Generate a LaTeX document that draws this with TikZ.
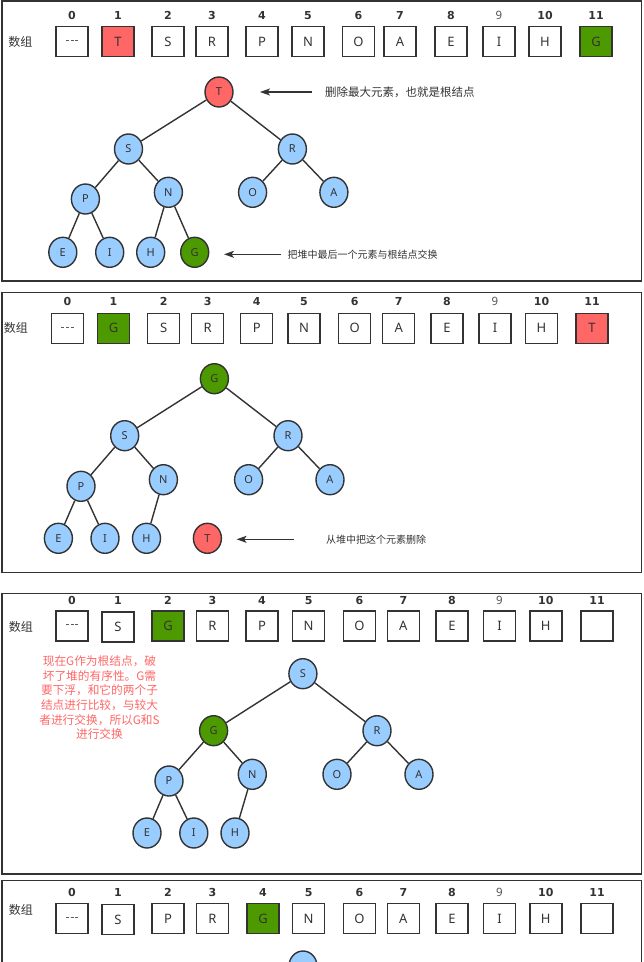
\documentclass[tikz,border=0pt]{standalone}
\usepackage{fontspec}
\setmainfont{Noto Sans}
\newfontfamily\cjk{Noto Sans CJK SC}
\newfontfamily\idxfont{DejaVu Sans}
\usetikzlibrary{shapes.geometric,arrows.meta}
\definecolor{lc}{HTML}{333333}
\definecolor{hred}{HTML}{FF6666}
\definecolor{hgreen}{HTML}{4D9900}
\definecolor{hblue}{HTML}{99CCFF}
\definecolor{redtxt}{HTML}{FF6666}
\newcommand\onedash{\textcolor{lc!80}{\rule[2.6pt]{3pt}{0.8pt}}}
\newcommand\tridash{\onedash\hspace{1.6pt}\onedash\hspace{1.6pt}\onedash}
\tikzset{
  panel/.style={draw=lc, line width=1.5pt},
  cell/.style={draw=lc, line width=1.4pt, minimum width=32pt, minimum height=30pt, inner sep=0pt, text=lc, font=\fontsize{13}{13}\selectfont},
  idxb/.style={font=\idxfont\bfseries\fontsize{11}{11}\selectfont, text=lc, text height=8pt, text depth=0pt, inner sep=0pt},
  idxl/.style={font=\fontsize{11.5}{11.5}\selectfont, text=lc!85, text height=8pt, text depth=0pt, inner sep=0pt},
  tn/.style={ellipse, draw=lc, line width=1.4pt, fill=hblue, minimum width=28pt, minimum height=30pt, inner sep=0pt, text=lc, font=\fontsize{11}{11}\selectfont},
  grn/.style={fill=hgreen},
  rd/.style={fill=hred},
  plain/.style={},
  edge/.style={draw=lc, line width=1.4pt},
  arr/.style={draw=lc, line width=1.4pt, -{Stealth[length=10pt,width=7pt,inset=2.5pt]}},
  lbl/.style={font=\cjk\fontsize{12}{12}\selectfont, text=lc},
  note/.style={text=lc, anchor=west},
}
\begin{document}
\begin{tikzpicture}[x=1pt,y=-1pt]
\useasboundingbox (0,0) rectangle (644,962);
\begin{scope}
\clip (0,0) rectangle (644,962);

% ---------------- Panel 1 ----------------
\draw[panel] (2,1) rectangle (641.5,281);
\node[lbl] (alab) at (20.5,42) {数组};
\foreach \k/\x/\t/\s/\l in {0/72/\tridash/plain/idxb,1/118/T/rd/idxb,2/168/S/plain/idxb,3/212/R/plain/idxb,4/262/P/plain/idxb,5/308/N/plain/idxb,6/358.5/O/plain/idxb,7/400/A/plain/idxb,8/451/E/plain/idxb,9/499/I/plain/idxl,10/545/H/plain/idxb,11/596/G/grn/idxb}{
  \node[cell,\s] (ac\k) at (\x,41.5) {\t};
  \node[\l] (ai\k) at (\x,15) {\k};
}
\node[tn,rd] (aT) at (219,92) {T};
\node[tn] (aS) at (128.5,149) {S};
\node[tn] (aR) at (292.4,149) {R};
\node[tn] (aP) at (85.4,199) {P};
\node[tn] (aN) at (168.4,192.3) {N};
\node[tn] (aO) at (252.6,192.3) {O};
\node[tn] (aA) at (333.9,192.3) {A};
\node[tn] (aE) at (62.8,252.3) {E};
\node[tn] (aI) at (109.7,252.3) {I};
\node[tn] (aH) at (150.7,252.3) {H};
\node[tn,grn] (aG) at (194.7,252.3) {G};
\draw[edge] (aT) -- (aS);
\draw[edge] (aT) -- (aR);
\draw[edge] (aS) -- (aP);
\draw[edge] (aS) -- (aN);
\draw[edge] (aR) -- (aO);
\draw[edge] (aR) -- (aA);
\draw[edge] (aP) -- (aE);
\draw[edge] (aP) -- (aI);
\draw[edge] (aN) -- (aH);
\draw[edge] (aN) -- (aG);
\node[note,font=\cjk\fontsize{11.5}{11.5}\selectfont,inner sep=0pt] (at1) at (325,92) {删除最大元素，也就是根结点};
\coordinate (aa1s) at (312,92);
\coordinate (aa1e) at (260,92);
\draw[arr] (aa1s) -- (aa1e);
\node[note,font=\cjk\fontsize{10}{10}\selectfont,inner sep=0pt] (at2) at (287.5,254.3) {把堆中最后一个元素与根结点交换};
\coordinate (aa2s) at (280.5,254.3);
\coordinate (aa2e) at (224,254.3);
\draw[arr] (aa2s) -- (aa2e);

% ---------------- Panel 2 ----------------
\draw[panel] (2,292.3) rectangle (641.5,572.3);
\node[lbl] (blab) at (16,328) {数组};
\foreach \k/\x/\t/\s/\l in {0/67.5/\tridash/plain/idxb,1/113.5/G/grn/idxb,2/163.7/S/plain/idxb,3/207.6/R/plain/idxb,4/256.7/P/plain/idxb,5/304/N/plain/idxb,6/354.7/O/plain/idxb,7/398.7/A/plain/idxb,8/447/E/plain/idxb,9/495/I/plain/idxl,10/541.5/H/plain/idxb,11/592/T/rd/idxb}{
  \node[cell,\s] (bc\k) at (\x,328.3) {\t};
  \node[\l] (bi\k) at (\x,301.7) {\k};
}
\node[tn,grn] (bG) at (214.4,378.7) {G};
\node[tn] (bS) at (124.7,435.7) {S};
\node[tn] (bR) at (288,435.7) {R};
\node[tn] (bP) at (81,486.3) {P};
\node[tn] (bN) at (163.4,479.7) {N};
\node[tn] (bO) at (248.6,479.7) {O};
\node[tn] (bA) at (330,479.7) {A};
\node[tn] (bE) at (58.4,538.3) {E};
\node[tn] (bI) at (105,538.3) {I};
\node[tn] (bH) at (146.5,538.3) {H};
\node[tn,rd] (bT) at (207.4,538.3) {T};
\draw[edge] (bG) -- (bS);
\draw[edge] (bG) -- (bR);
\draw[edge] (bS) -- (bP);
\draw[edge] (bS) -- (bN);
\draw[edge] (bR) -- (bO);
\draw[edge] (bR) -- (bA);
\draw[edge] (bP) -- (bE);
\draw[edge] (bP) -- (bI);
\draw[edge] (bN) -- (bH);
\node[note,font=\cjk\fontsize{10}{10}\selectfont,inner sep=0pt] (bt1) at (326,539.3) {从堆中把这个元素删除};
\coordinate (ba1s) at (294,539.3);
\coordinate (ba1e) at (236.6,539.3);
\draw[arr] (ba1s) -- (ba1e);

% ---------------- Panel 3 ----------------
\draw[panel] (2,593.3) rectangle (641.5,874);
\node[lbl] (clab) at (21,626.7) {数组};
\foreach \k/\x/\t/\s/\l/\dy in {0/72/\tridash/plain/idxb/0,1/118/S/plain/idxb/0.8,2/168/G/grn/idxb/0,3/212.5/R/plain/idxb/0,4/262/P/plain/idxb/0,5/308.6/N/plain/idxb/0,6/359.5/O/plain/idxb/0,7/403.4/A/plain/idxb/0,8/452/E/plain/idxb/0,9/499.5/I/plain/idxl/0,10/545.8/H/plain/idxb/0,11/597/{}/plain/idxb/0}{
  \node[cell,\s] (cc\k) at (\x,626+\dy) {\t};
  \node[\l] (ci\k) at (\x,600) {\k};
}
\node[tn] (cS) at (302.9,673.7) {S};
\node[tn,grn] (cG) at (213.6,730.7) {G};
\node[tn] (cR) at (377,730.7) {R};
\node[tn] (cP) at (169,781) {P};
\node[tn] (cN) at (252.3,774.3) {N};
\node[tn] (cO) at (337,774.3) {O};
\node[tn] (cA) at (419,774.3) {A};
\node[tn] (cE) at (147,833) {E};
\node[tn] (cI) at (193.8,833) {I};
\node[tn] (cH) at (235,833) {H};
\draw[edge] (cS) -- (cG);
\draw[edge] (cS) -- (cR);
\draw[edge] (cG) -- (cP);
\draw[edge] (cG) -- (cN);
\draw[edge] (cR) -- (cO);
\draw[edge] (cR) -- (cA);
\draw[edge] (cP) -- (cE);
\draw[edge] (cP) -- (cI);
\draw[edge] (cN) -- (cH);
\node[align=center, text=redtxt, font=\cjk\fontsize{11.7}{14.7}\selectfont, inner sep=0pt] (cnote) at (99.5,697.8) {现在G作为根结点，破\\坏了堆的有序性。G需\\要下浮，和它的两个子\\结点进行比较，与较大\\者进行交换，所以G和S\\进行交换};

% ---------------- Panel 4 ----------------
\draw[panel] (2,880.7) rectangle (641.5,980);
\node[lbl] (dlab) at (21,910) {数组};
\foreach \k/\x/\t/\s/\l/\dy in {0/72/\tridash/plain/idxb/0,1/118/S/plain/idxb/1,2/168/P/plain/idxb/0,3/212.5/R/plain/idxb/0,4/263/G/grn/idxb/0,5/308.6/N/plain/idxb/0,6/359.5/O/plain/idxb/0,7/403.4/A/plain/idxb/0,8/452/E/plain/idxb/0,9/499.5/I/plain/idxl/0,10/545.8/H/plain/idxb/0,11/597/{}/plain/idxb/0}{
  \node[cell,\s] (dc\k) at (\x,918.7+\dy) {\t};
  \node[\l] (di\k) at (\x,892.3) {\k};
}
\node[tn] (dS) at (303,966) {};
\end{scope}
\end{tikzpicture}
\end{document}
